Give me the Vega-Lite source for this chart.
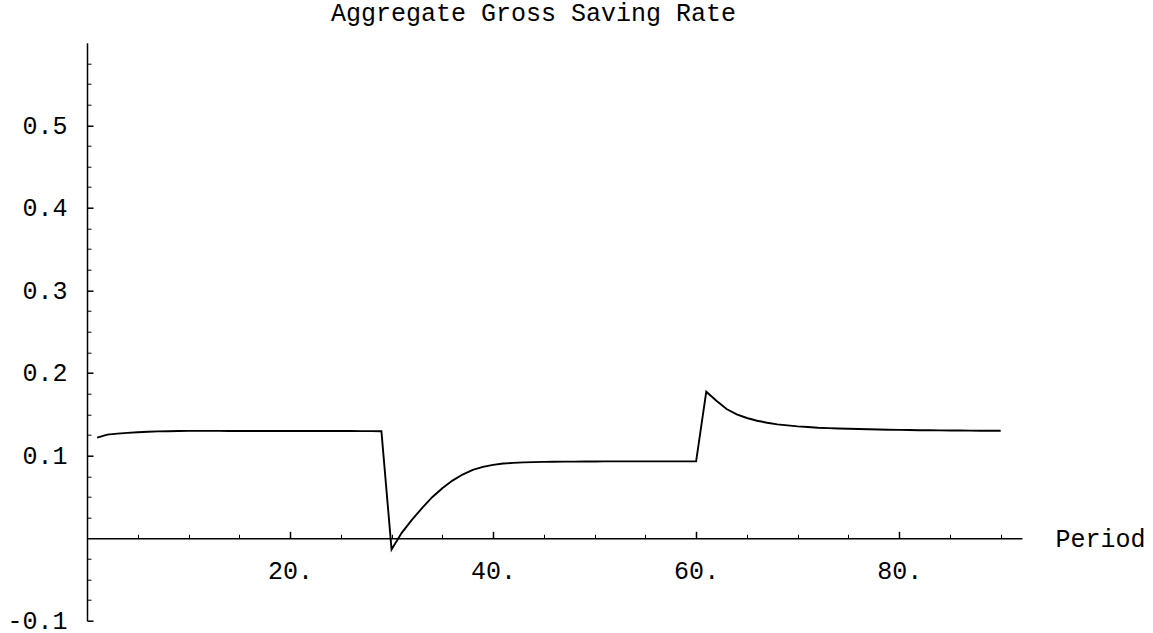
{
  "$schema": "https://vega.github.io/schema/vega-lite/v6.json",
  "width": 935,
  "height": 578,
  "autosize": {"type": "none"},
  "padding": {"left": 87, "top": 42.7, "right": 131, "bottom": 12.3},
  "background": "white",
  "title": {
    "text": "Aggregate Gross Saving Rate",
    "font": "Liberation Mono",
    "fontSize": 25,
    "fontWeight": "normal",
    "color": "black",
    "anchor": "middle",
    "frame": "group",
    "dx": -21,
    "dy": 26,
    "offset": 22.7,
    "baseline": "alphabetic"
  },
  "config": {
    "view": {"stroke": null},
    "axis": {"grid": false}
  },
  "datasets": {
    "rate": [
      {"period": 1, "rate": 0.1217}, {"period": 2, "rate": 0.1253}, {"period": 3, "rate": 0.1265},
      {"period": 4, "rate": 0.1275}, {"period": 5, "rate": 0.1283}, {"period": 6, "rate": 0.1289},
      {"period": 7, "rate": 0.1293}, {"period": 8, "rate": 0.1295}, {"period": 9, "rate": 0.1297},
      {"period": 10, "rate": 0.1299}, {"period": 11, "rate": 0.1299}, {"period": 12, "rate": 0.1299},
      {"period": 13, "rate": 0.1299}, {"period": 14, "rate": 0.1298}, {"period": 15, "rate": 0.1298},
      {"period": 16, "rate": 0.1298}, {"period": 17, "rate": 0.1298}, {"period": 18, "rate": 0.1298},
      {"period": 19, "rate": 0.1298}, {"period": 20, "rate": 0.1298}, {"period": 21, "rate": 0.1298},
      {"period": 22, "rate": 0.1298}, {"period": 23, "rate": 0.1297}, {"period": 24, "rate": 0.1297},
      {"period": 25, "rate": 0.1297}, {"period": 26, "rate": 0.1297}, {"period": 27, "rate": 0.1296},
      {"period": 28, "rate": 0.1296}, {"period": 29, "rate": 0.1295}, {"period": 30, "rate": -0.0137},
      {"period": 31, "rate": 0.0064}, {"period": 32, "rate": 0.0222}, {"period": 33, "rate": 0.0363},
      {"period": 34, "rate": 0.0496}, {"period": 35, "rate": 0.0605}, {"period": 36, "rate": 0.0697},
      {"period": 37, "rate": 0.077}, {"period": 38, "rate": 0.0826}, {"period": 39, "rate": 0.0863},
      {"period": 40, "rate": 0.0887}, {"period": 41, "rate": 0.0903}, {"period": 42, "rate": 0.0911},
      {"period": 43, "rate": 0.0917}, {"period": 44, "rate": 0.0921}, {"period": 45, "rate": 0.0923},
      {"period": 46, "rate": 0.0925}, {"period": 47, "rate": 0.0926}, {"period": 48, "rate": 0.0927},
      {"period": 49, "rate": 0.0928}, {"period": 50, "rate": 0.0928}, {"period": 51, "rate": 0.0929},
      {"period": 52, "rate": 0.0929}, {"period": 53, "rate": 0.0929}, {"period": 54, "rate": 0.093},
      {"period": 55, "rate": 0.093}, {"period": 56, "rate": 0.093}, {"period": 57, "rate": 0.093},
      {"period": 58, "rate": 0.093}, {"period": 59, "rate": 0.093}, {"period": 60, "rate": 0.093},
      {"period": 61, "rate": 0.1773}, {"period": 62, "rate": 0.1664}, {"period": 63, "rate": 0.1563},
      {"period": 64, "rate": 0.1499}, {"period": 65, "rate": 0.1455}, {"period": 66, "rate": 0.1422},
      {"period": 67, "rate": 0.1398}, {"period": 68, "rate": 0.1378}, {"period": 69, "rate": 0.1366},
      {"period": 70, "rate": 0.1354}, {"period": 71, "rate": 0.1346}, {"period": 72, "rate": 0.1337},
      {"period": 73, "rate": 0.1332}, {"period": 74, "rate": 0.1327}, {"period": 75, "rate": 0.1324},
      {"period": 76, "rate": 0.1322}, {"period": 77, "rate": 0.1318}, {"period": 78, "rate": 0.1316},
      {"period": 79, "rate": 0.1313}, {"period": 80, "rate": 0.1311}, {"period": 81, "rate": 0.1309},
      {"period": 82, "rate": 0.1307}, {"period": 83, "rate": 0.1306}, {"period": 84, "rate": 0.1305},
      {"period": 85, "rate": 0.1304}, {"period": 86, "rate": 0.1303}, {"period": 87, "rate": 0.1302},
      {"period": 88, "rate": 0.1301}, {"period": 89, "rate": 0.1301}, {"period": 90, "rate": 0.13}
    ]
  },
  "data": {"name": "rate"},
  "resolve": {"axis": {"x": "independent", "y": "independent"}},
  "layer": [
    {
      "mark": {"type": "line", "color": "black", "strokeWidth": 1.9},
      "encoding": {
        "x": {
          "field": "period", "type": "quantitative",
          "scale": {"domain": [0, 92.1], "nice": false, "zero": false},
          "axis": {
            "orient": "bottom",
            "offset": -82.4,
            "values": [20, 40, 60, 80],
            "labelExpr": "datum.value + '.'",
            "tickSize": -7,
            "tickWidth": 1.5,
            "tickColor": "black",
            "domain": true,
            "domainColor": "black",
            "domainWidth": 1.5,
            "labelFont": "Liberation Mono",
            "labelFontSize": 25,
            "labelColor": "black",
            "labelPadding": 27,
            "labelFlush": false,
            "labelOverlap": false,
            "title": "Period",
            "titleFont": "Liberation Mono",
            "titleFontSize": 25,
            "titleFontWeight": "normal",
            "titleColor": "black",
            "titleAlign": "left",
            "titleBaseline": "middle",
            "titleAnchor": "start",
            "titleX": 968,
            "titleY": 0
          }
        },
        "y": {
          "field": "rate", "type": "quantitative",
          "scale": {"domain": [-0.1, 0.6], "nice": false, "zero": false},
          "axis": {
            "orient": "left",
            "values": [-0.1, 0.1, 0.2, 0.3, 0.4, 0.5],
            "labelExpr": "'' + datum.value",
            "tickSize": -6,
            "tickWidth": 1.5,
            "tickColor": "black",
            "domain": true,
            "domainColor": "black",
            "domainWidth": 1.5,
            "labelFont": "Liberation Mono",
            "labelFontSize": 25,
            "labelColor": "black",
            "labelPadding": 26,
            "labelFlush": false,
            "labelOverlap": false,
            "title": null
          }
        }
      }
    },
    {
      "mark": {"type": "line", "opacity": 0},
      "encoding": {
        "x": {
          "field": "period", "type": "quantitative",
          "axis": {
            "orient": "bottom",
            "offset": -82.4,
            "values": [5, 10, 15, 25, 30, 35, 45, 50, 55, 65, 70, 75, 85, 90],
            "labels": false,
            "domain": false,
            "tickSize": -4,
            "tickWidth": 1,
            "tickColor": "black",
            "title": null
          }
        },
        "y": {
          "field": "rate", "type": "quantitative",
          "axis": {
            "orient": "left",
            "values": [-0.075, -0.05, -0.025, 0.025, 0.05, 0.075, 0.125, 0.15, 0.175, 0.225, 0.25, 0.275, 0.325, 0.35, 0.375, 0.425, 0.45, 0.475, 0.525, 0.55, 0.575],
            "labels": false,
            "domain": false,
            "tickSize": -4,
            "tickWidth": 1,
            "tickColor": "black",
            "title": null
          }
        }
      }
    }
  ]
}
